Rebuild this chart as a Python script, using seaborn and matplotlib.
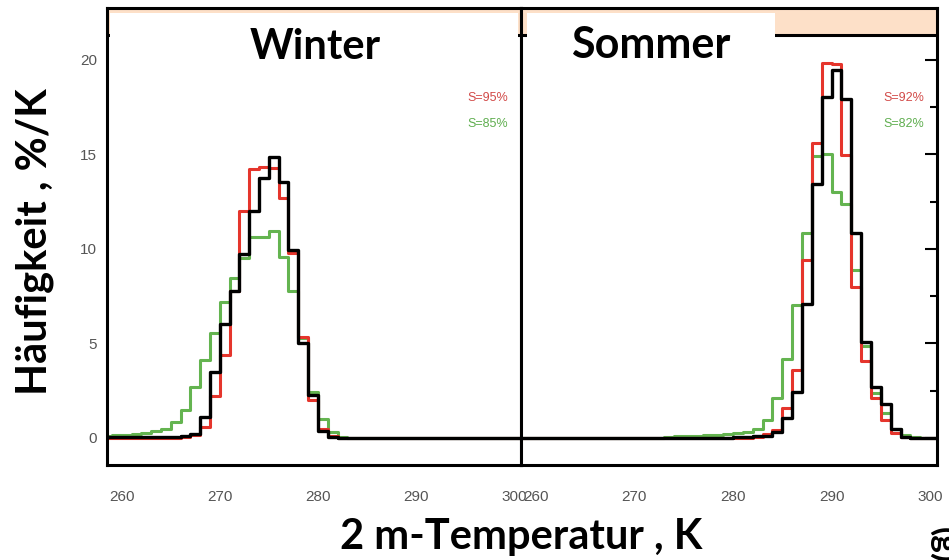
import matplotlib
matplotlib.use("Agg")
import matplotlib.pyplot as plt
import seaborn as sns
from matplotlib.patches import Rectangle

# Temperature distributions (1 K bins), Winter and Sommer
# left bin edges in K, one value per bin (%/K)
bin_left = list(range(258, 301))
bin_edges = bin_left + [301]

winter_black = [0.03, 0.03, 0.03, 0.03, 0.03, 0.03, 0.03, 0.03, 0.08, 0.2,
                1.1, 3.5, 6.05, 7.8, 9.75, 12.0, 13.75, 14.85, 13.55, 9.95,
                5.0, 2.25, 0.35, 0.05, 0, 0, 0, 0, 0, 0,
                0, 0, 0, 0, 0, 0, 0, 0, 0, 0,
                0, 0, 0]
winter_red = [0.02, 0.02, 0.02, 0.02, 0.02, 0.02, 0.02, 0.02, 0.05, 0.15,
              0.6, 2.2, 4.4, 7.8, 12.0, 14.25, 14.35, 14.3, 12.7, 9.8,
              5.35, 2.0, 0.5, 0.1, 0, 0, 0, 0, 0, 0,
              0, 0, 0, 0, 0, 0, 0, 0, 0, 0,
              0, 0, 0]
winter_green = [0.12, 0.15, 0.18, 0.22, 0.27, 0.35, 0.5, 0.85, 1.5, 2.7,
                4.15, 5.55, 7.2, 8.45, 9.5, 10.65, 10.65, 10.95, 9.6, 7.75,
                5.3, 2.45, 1.0, 0.3, 0.05, 0, 0, 0, 0, 0,
                0, 0, 0, 0, 0, 0, 0, 0, 0, 0,
                0, 0, 0]

summer_black = [0, 0, 0, 0, 0, 0, 0, 0, 0, 0,
                0, 0, 0, 0, 0, 0, 0, 0, 0, 0,
                0, 0, 0.03, 0.05, 0.08, 0.12, 0.33, 1.05, 2.45, 7.1,
                13.45, 18.05, 19.45, 17.95, 10.85, 5.1, 2.7, 1.8, 0.5, 0.05,
                0, 0, 0]
summer_red = [0, 0, 0, 0, 0, 0, 0, 0, 0, 0,
              0, 0, 0, 0, 0, 0, 0, 0, 0, 0,
              0, 0, 0, 0, 0.05, 0.2, 0.42, 1.57, 3.6, 9.4,
              15.6, 19.85, 19.8, 14.95, 8.0, 4.05, 2.1, 0.95, 0.26, 0.05,
              0, 0, 0]
summer_green = [0, 0, 0, 0, 0, 0, 0, 0, 0, 0,
                0, 0, 0, 0, 0, 0.05, 0.08, 0.1, 0.12, 0.15,
                0.17, 0.2, 0.25, 0.3, 0.5, 0.95, 2.1, 4.2, 7.05, 10.85,
                14.9, 15.05, 13.0, 12.4, 8.9, 4.85, 2.4, 1.3, 0.5, 0.15,
                0.05, 0, 0]

panels = ["Winter", "Sommer"]
red_labels = ["S=95%", "S=92%"]
green_labels = ["S=85%", "S=82%"]

RED = "#e5352c"
GREEN = "#64b450"

sns.set_style("white")
plt.rcParams["font.family"] = ["Liberation Sans", "DejaVu Sans"]

W, H = 949, 560
fig = plt.figure(figsize=(W / 100, H / 100), dpi=100)
ax_w = fig.add_axes([107 / W, 1 - 465 / H, (521 - 107) / W, (465 - 8) / H])
ax_s = fig.add_axes([521 / W, 1 - 465 / H, (937 - 521) / W, (465 - 8) / H])

centers = [b + 0.5 for b in bin_left]
data = [(winter_green, winter_red, winter_black), (summer_green, summer_red, summer_black)]

for ax, (g, r, k), rl, gl in zip([ax_w, ax_s], data, red_labels, green_labels):
    sns.histplot(x=centers, weights=g, bins=bin_edges, element="step", fill=False,
                 color=GREEN, linewidth=2.2, ax=ax)
    sns.histplot(x=centers, weights=r, bins=bin_edges, element="step", fill=False,
                 color=RED, linewidth=2.2, ax=ax)
    sns.histplot(x=centers, weights=k, bins=bin_edges, element="step", fill=False,
                 color="black", linewidth=2.4, ax=ax)

    ax.set_xlim(258.5, 300.7)
    ax.set_ylim(-1.43, 22.75)
    ax.axhspan(21.3, 22.75, color="#fde0c8", zorder=0, lw=0)
    ax.axhline(21.3, color="black", lw=2.2)
    ax.set_xlabel("")
    ax.set_ylabel("")
    ax.set_xticks([260, 270, 280, 290, 300])
    ax.set_xticks([265, 275, 285, 295], minor=True)
    ax.set_yticks([0, 5, 10, 15, 20])
    ax.set_yticks([2.5, 7.5, 12.5, 17.5], minor=True)
    ax.tick_params(which="both", direction="in", width=1.5, color="black",
                   labelcolor="#555555", labelsize=11)
    ax.tick_params(which="major", length=9)
    ax.tick_params(which="minor", length=5)
    ax.tick_params(axis="x", pad=18)
    for s in ax.spines.values():
        s.set_linewidth(2.2)
        s.set_color("black")
    ax.text(299.4, 18.0, rl, color="#d24a48", fontsize=9, ha="right", va="center")
    ax.text(299.4, 16.6, gl, color="#5fae4f", fontsize=9, ha="right", va="center")

ax_w.tick_params(axis="y", pad=7)
ax_s.yaxis.tick_right()
ax_s.tick_params(axis="y", labelright=False, labelleft=False)

# white label boxes over the header strip
for (x0, x1) in [(110, 518), (527, 775)]:
    fig.add_artist(Rectangle((x0 / W, 1 - 75 / H), (x1 - x0) / W, 62 / H,
                             transform=fig.transFigure, facecolor="white",
                             edgecolor="none", zorder=3))

title_font = ["Lato", "DejaVu Sans"]
fig.text(315 / W, 1 - 47 / H, panels[0], fontsize=30, fontweight="bold",
         family=title_font, color="black", ha="center", va="center", zorder=4)
fig.text(651 / W, 1 - 45 / H, panels[1], fontsize=31, fontweight="bold",
         family=title_font, color="black", ha="center", va="center", zorder=4)

fig.text(35 / W, 1 - 242 / H, "Häufigkeit , %/K", rotation=90, fontsize=30,
         fontweight="bold", family=title_font, color="black",
         ha="center", va="center")
fig.text(521 / W, 1 - 537 / H, "2 m-Temperatur , K", fontsize=30,
         fontweight="bold", family=title_font, color="black",
         ha="center", va="center")
fig.text(944 / W, 1 - 545 / H, "(g)", rotation=270, fontsize=24,
         fontweight="bold", family=title_font, color="black",
         ha="center", va="center")

fig.savefig("out.png", dpi=100)
